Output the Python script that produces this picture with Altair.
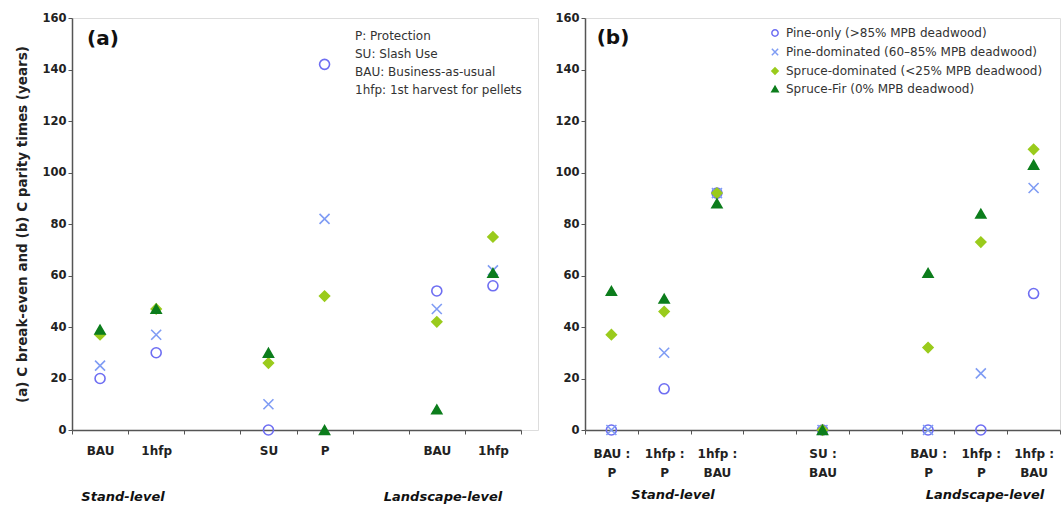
import altair as alt
import pandas as pd

# ---------------- data ----------------
series = [
    "Pine-only (>85% MPB deadwood)",
    "Pine-dominated (60–85% MPB deadwood)",
    "Spruce-dominated (<25% MPB deadwood)",
    "Spruce-Fir (0% MPB deadwood)",
]
colors = ["#6e6ef2", "#7f9cf4", "#9acb1c", "#0c7d1c"]
fills = ["transparent", "transparent", "#9acb1c", "#0c7d1c"]
shapes = ["circle", "M-1,-1L1,1M-1,1L1,-1", "diamond", "triangle-up"]

# panel (a): C break-even times
slots_a = ["Stand|BAU", "Stand|1hfp", "gap1", "Stand|SU", "Stand|P", "gap2",
           "Landscape|BAU", "Landscape|1hfp"]
cats_a = ["Stand|BAU", "Stand|1hfp", "Stand|SU", "Stand|P", "Landscape|BAU", "Landscape|1hfp"]
pine_only_a = [20, 30, 0, 142, 54, 56]
pine_dom_a = [25, 37, 10, 82, 47, 62]
spruce_dom_a = [37, 47, 26, 52, 42, 75]
spruce_fir_a = [39, 47, 30, 0, 8, 61]

# panel (b): C parity times
slots_b = ["Stand|BAU :|P", "Stand|1hfp :|P", "Stand|1hfp :|BAU", "gap1", "Mid|SU :|BAU", "gap2",
           "Landscape|BAU :|P", "Landscape|1hfp :|P", "Landscape|1hfp :|BAU"]
cats_b = ["Stand|BAU :|P", "Stand|1hfp :|P", "Stand|1hfp :|BAU", "Mid|SU :|BAU",
          "Landscape|BAU :|P", "Landscape|1hfp :|P", "Landscape|1hfp :|BAU"]
pine_only_b = [0, 16, 92, 0, 0, 0, 53]
pine_dom_b = [0, 30, 92, 0, 0, 22, 94]
spruce_dom_b = [37, 46, 92, 0, 32, 73, 109]
spruce_fir_b = [54, 51, 88, 0, 61, 84, 103]

legend_a_lines = ["P: Protection", "SU: Slash Use", "BAU: Business-as-usual",
                  "1hfp: 1st harvest for pellets"]
y_title = "(a) C break-even and (b) C parity times (years)"
y_ticks = [0, 20, 40, 60, 80, 100, 120, 140, 160]


def long_df(cats, arrays):
    rows = []
    for s, arr in zip(series, arrays):
        for c, v in zip(cats, arr):
            rows.append({"slot": c, "series": s, "value": v})
    return pd.DataFrame(rows)


df_a = long_df(cats_a, [pine_only_a, pine_dom_a, spruce_dom_a, spruce_fir_a])
df_b = long_df(cats_b, [pine_only_b, pine_dom_b, spruce_dom_b, spruce_fir_b])

H = 412
FONT = "DejaVu Sans"
label_expr = "length(split(datum.value, '|')) > 1 ? slice(split(datum.value, '|'), 1) : ''"


def panel(df, slots, width, rng, y_axis_title, legend, lab_pad):
    x = alt.X(
        "slot:N",
        scale=alt.Scale(type="band", domain=slots, range=[0, rng], paddingInner=0, paddingOuter=0),
        axis=alt.Axis(title=None, labelAngle=0, tickBand="extent", tickSize=4,
                      labelExpr=label_expr, labelPadding=lab_pad, labelFont=FONT,
                      labelFontSize=12, labelFontWeight="bold", labelColor="#222",
                      labelBaseline="top", labelLineHeight=19,
                      domainColor="#555", domainWidth=1.5, tickColor="#555"),
    )
    y = alt.Y(
        "value:Q",
        scale=alt.Scale(domain=[0, 160], nice=False, zero=True),
        axis=alt.Axis(values=y_ticks, grid=False, tickSize=4, labelPadding=2,
                      labelFont=FONT, labelFontSize=11.5, labelFontWeight="bold",
                      labelColor="#222", domainColor="#555", domainWidth=1.5,
                      tickColor="#555",
                      title=y_axis_title, titleFont=FONT, titleFontSize=13.5,
                      titleFontWeight="bold", titleColor="#222", titlePadding=12),
    )
    leg = (alt.Legend(title=None, orient="none", legendX=184, legendY=9,
                      labelFont=FONT, labelFontSize=12, labelColor="#333",
                      symbolSize=40, symbolStrokeWidth=1.5, rowPadding=5,
                      labelOffset=5, labelLimit=400)
           if legend else None)
    pts = alt.Chart(df).mark_point(size=100, strokeWidth=1.6, opacity=1).encode(
        x=x, y=y,
        shape=alt.Shape("series:N", scale=alt.Scale(domain=series, range=shapes), legend=leg),
        stroke=alt.Stroke("series:N", scale=alt.Scale(domain=series, range=colors), legend=leg),
        fill=alt.Fill("series:N", scale=alt.Scale(domain=series, range=fills), legend=leg),
    )
    return pts.properties(width=width, height=H)


def label_text(txt, x, y, size, **kw):
    return alt.Chart(pd.DataFrame({"t": [txt]})).mark_text(
        font=FONT, fontSize=size, align="center", baseline="middle", **kw
    ).encode(text="t:N", x=alt.value(x), y=alt.value(y))


# panel (a)
pa = panel(df_a, slots_a, 466, 449, y_title, False, 11)
pa_tag = label_text("(a)", 31, 21, 20, fontWeight="bold", color="#111")
pa_leg = alt.Chart(pd.DataFrame({"t": ["\n".join(legend_a_lines)]})).mark_text(
    font=FONT, fontSize=12, align="left", baseline="top", lineBreak="\n",
    lineHeight=18, color="#333"
).encode(text="t:N", x=alt.value(283), y=alt.value(13))
pa_stand = label_text("Stand-level", 51, H + 67, 13, fontWeight="bold", fontStyle="italic", color="#111")
pa_land = label_text("Landscape-level", 371, H + 67, 13, fontWeight="bold", fontStyle="italic", color="#111")
chart_a = alt.layer(pa, pa_tag, pa_leg, pa_stand, pa_land)

# panel (b)
pb = panel(df_b, slots_b, 475, 475, None, True, 14)
pb_tag = label_text("(b)", 28, 20, 20, fontWeight="bold", color="#111")
pb_stand = label_text("Stand-level", 88, H + 65, 13, fontWeight="bold", fontStyle="italic", color="#111")
pb_land = label_text("Landscape-level", 400, H + 65, 13, fontWeight="bold", fontStyle="italic", color="#111")
chart_b = alt.layer(pb, pb_tag, pb_stand, pb_land)

chart = (
    alt.hconcat(chart_a, chart_b, spacing=15)
    .resolve_scale(shape="independent", stroke="independent", fill="independent")
    .properties(padding={"left": 15, "top": 11, "right": 0, "bottom": 0})
    .configure_view(stroke="#999", strokeWidth=1.5)
    .configure(background="white")
)

chart.save("out.html", embed_options={"renderer": "svg", "actions": False})
